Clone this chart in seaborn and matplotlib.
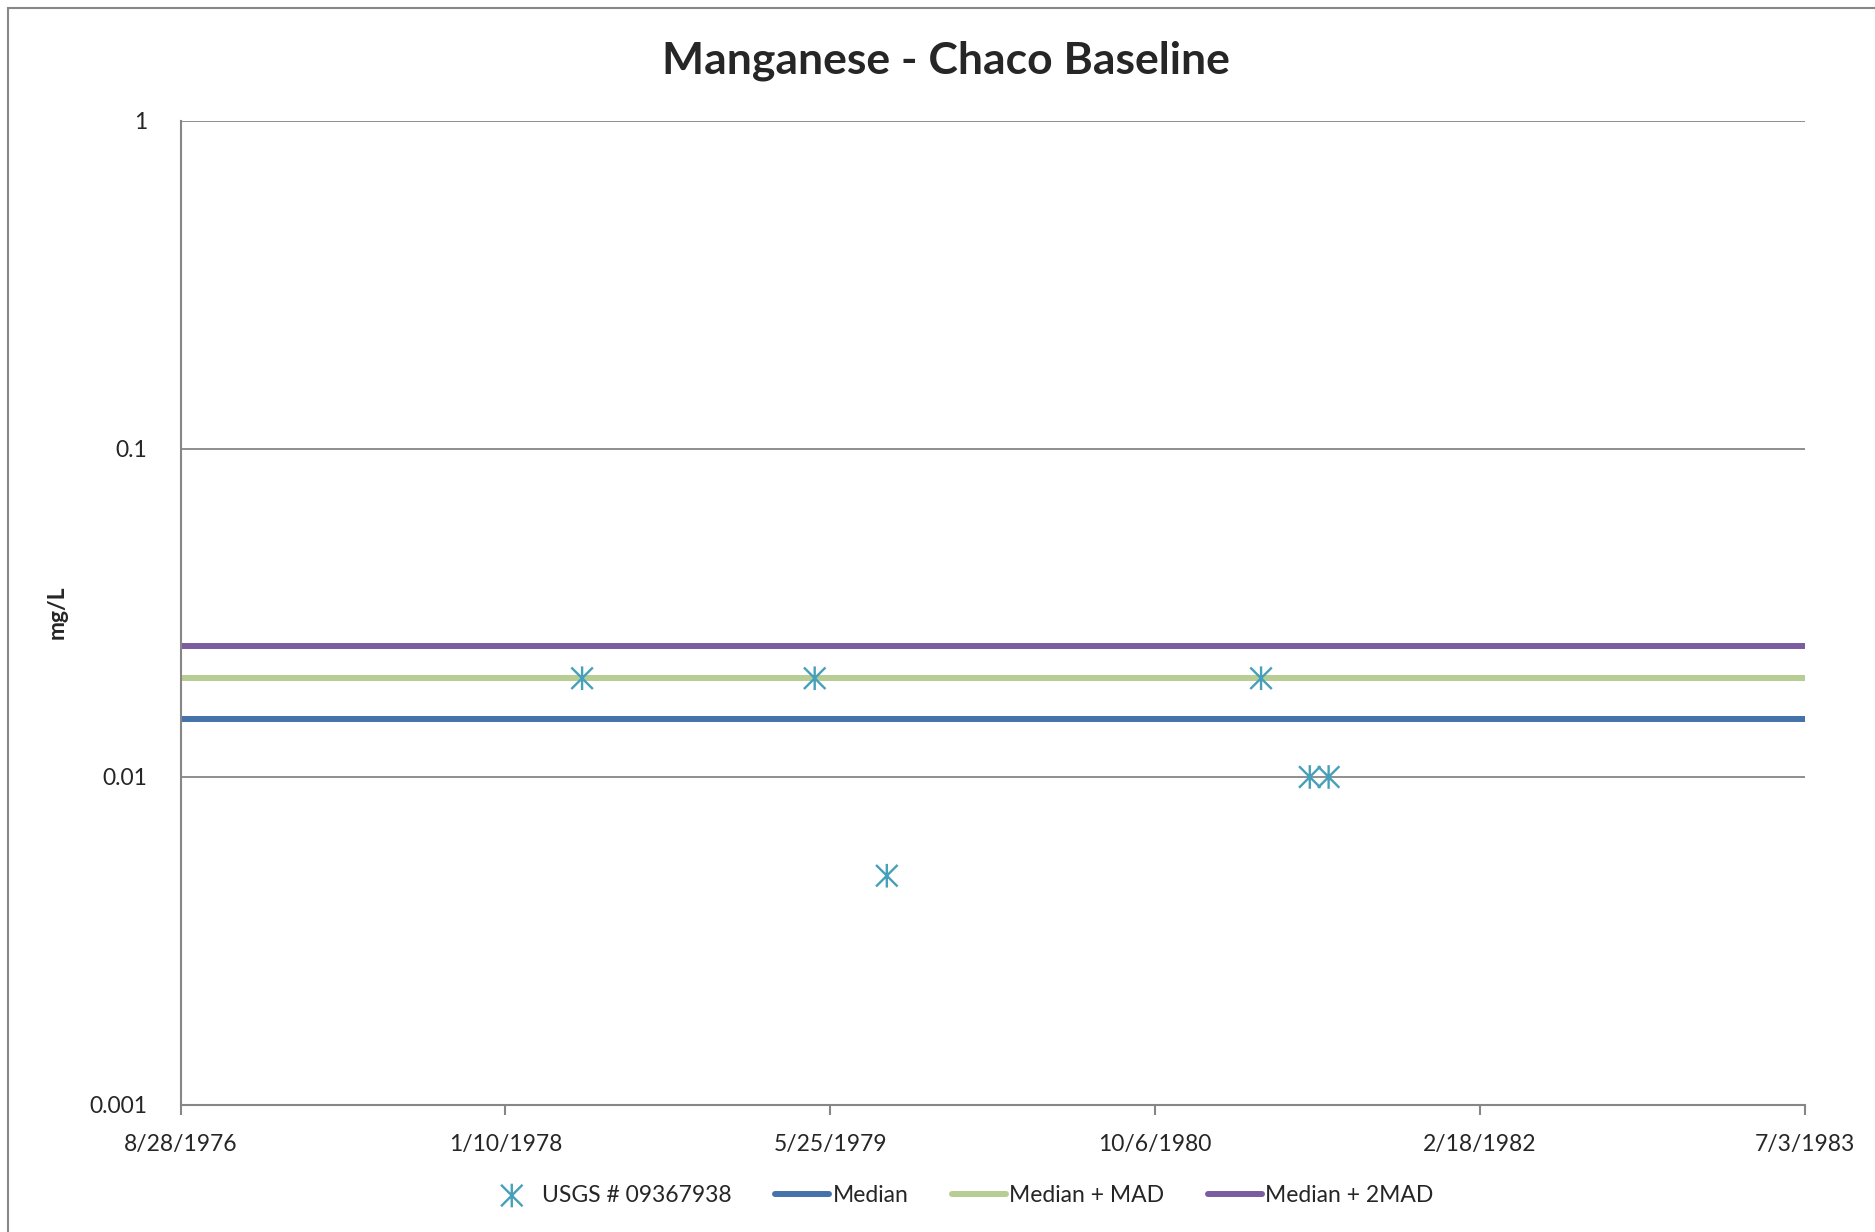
import pandas as pd
import matplotlib.pyplot as plt
import seaborn as sns
from matplotlib.path import Path
from matplotlib.patches import Rectangle

# Данные
sample_dates = ['1978-05-08', '1979-05-01', '1979-08-20', '1981-03-18', '1981-06-01', '1981-06-30']
sample_values = [0.02, 0.02, 0.005, 0.02, 0.01, 0.01]
series_name = 'USGS # 09367938'

stat_names = ['Median', 'Median + MAD', 'Median + 2MAD']
stat_values = [0.015, 0.02, 0.025]
stat_colors = ['#4672AA', '#B7CD93', '#7B5C9E']

x_tick_labels = ['8/28/1976', '1/10/1978', '5/25/1979', '10/6/1980', '2/18/1982', '7/3/1983']
y_tick_values = [0.001, 0.01, 0.1, 1]
y_tick_labels = ['0.001', '0.01', '0.1', '1']

sns.set_theme(style='white')
plt.rcParams['font.family'] = ['Lato', 'DejaVu Sans']

df = pd.DataFrame({'date': pd.to_datetime(sample_dates), 'value': sample_values})
x_ticks = pd.to_datetime(x_tick_labels, format='%m/%d/%Y')

# маркер-звёздочка как в Excel: X + вертикальная черта
star = Path([(-1, -1), (1, 1), (-1, 1), (1, -1), (0, -1.1), (0, 1.1)],
            [Path.MOVETO, Path.LINETO, Path.MOVETO, Path.LINETO, Path.MOVETO, Path.LINETO])

fig = plt.figure(figsize=(18.75, 12.32), dpi=100)
ax = fig.add_axes([0.0963, 0.1031, 0.8663, 0.7987])

for name, val, col in zip(stat_names, stat_values, stat_colors):
    ax.axhline(val, color=col, lw=4.3, label=name, zorder=2)

sns.scatterplot(data=df, x='date', y='value', ax=ax, marker=star, s=290,
                facecolor='none', edgecolor='#46A0BA', linewidth=1.7,
                label=series_name, zorder=3)

ax.set_yscale('log')
ax.set_ylim(0.001, 1)
ax.set_xlim(x_ticks[0], x_ticks[-1])
ax.set_yticks(y_tick_values)
ax.set_yticklabels(y_tick_labels)
ax.yaxis.set_minor_locator(plt.NullLocator())
ax.set_xticks(x_ticks)
ax.set_xticklabels(x_tick_labels)
ax.tick_params(axis='x', direction='out', length=7, width=1.5, color='#868686',
               labelsize=16.5, pad=14, bottom=True)
ax.tick_params(axis='y', length=0, labelsize=16.5, pad=24)
ax.grid(axis='y', color='#868686', lw=1.3)
ax.grid(axis='x', visible=False)
for s in ['top', 'right']:
    ax.spines[s].set_visible(False)
for s in ['left', 'bottom']:
    ax.spines[s].set_color('#868686')
    ax.spines[s].set_linewidth(1.5)
ax.set_xlabel('')
ax.set_ylabel('')

fig.text(0.5045, 0.951, 'Manganese - Chaco Baseline', ha='center', va='center',
         fontsize=32, fontweight='bold')
fig.text(0.0306, 0.503, 'mg/L', ha='center', va='center', rotation=90,
         fontsize=16.5, fontweight='bold')

handles, labels = ax.get_legend_handles_labels()
order = [labels.index(series_name)] + [labels.index(n) for n in stat_names]
ax.legend_.remove()
fig.legend([handles[i] for i in order], [labels[i] for i in order],
           loc='center', bbox_to_anchor=(0.5116, 0.030), ncol=4, frameon=False,
           fontsize=16.5, handlelength=2.35, handletextpad=0.15, columnspacing=1.9)

# рамка вокруг графика
fig.add_artist(Rectangle((0.0043, -0.05), 1.1, 1.0434, transform=fig.transFigure,
                         fill=False, edgecolor='#878787', lw=1.5))

plt.savefig('out.png', dpi=100)
plt.close()
